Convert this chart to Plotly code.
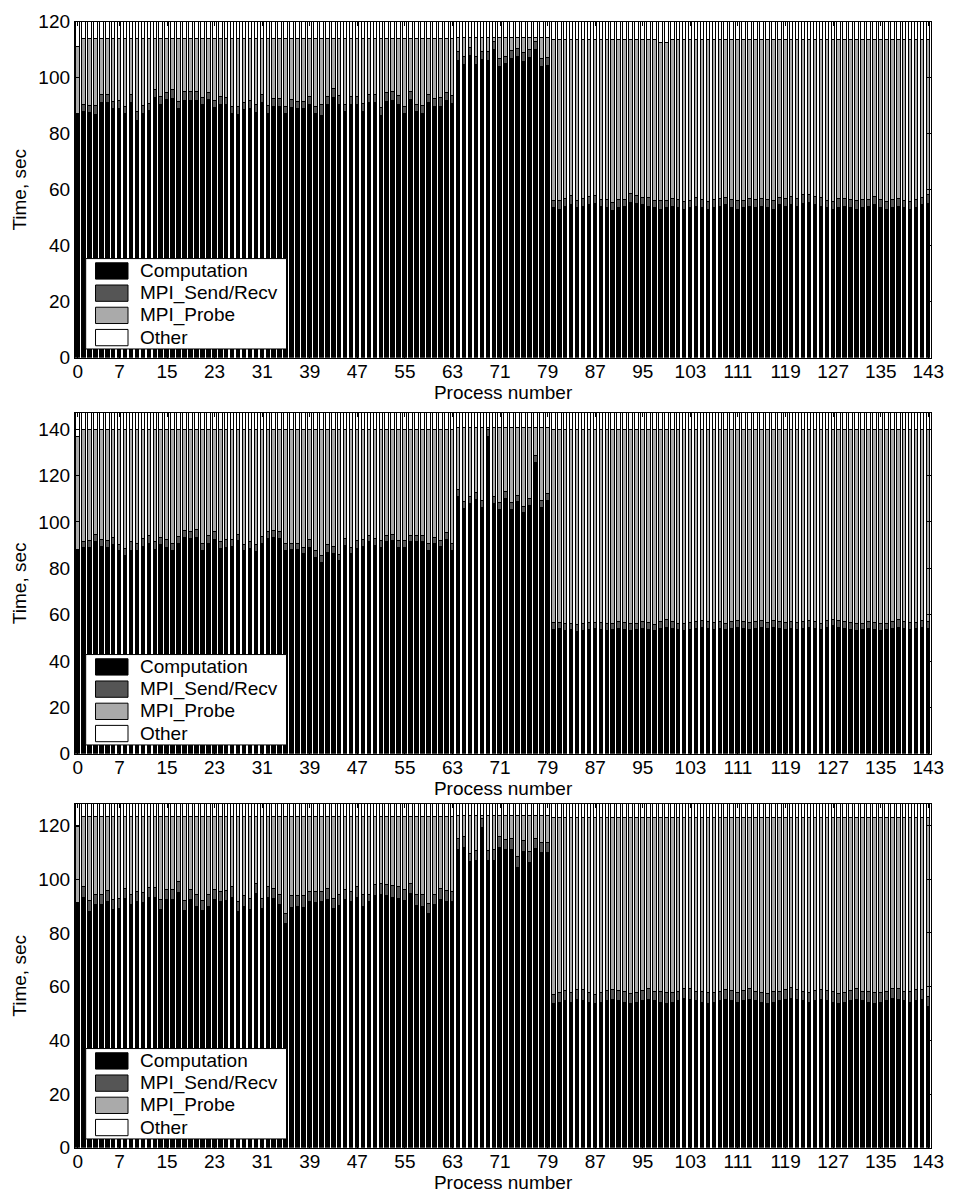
import plotly.graph_objects as go

# ---------------- data ----------------
processes = list(range(144))
tick_vals = [0, 7, 15, 23, 31, 39, 47, 55, 63, 71, 79, 87, 95, 103, 111, 119, 127, 135, 143]
tick_text = [str(v) for v in tick_vals]
series_names = ["Computation", "MPI_Send/Recv", "MPI_Probe", "Other"]
series_colors = ["#000000", "#555555", "#aaaaaa", "#ffffff"]

comp1 = [87.0, 87.7, 87.4, 86.8, 91.2, 91.2, 88.9, 88.9, 87.0, 91.2,
         84.6, 87.2, 88.2, 92.9, 90.5, 92.1, 92.6, 88.9, 91.7, 91.9,
         91.9, 90.3, 92.3, 89.2, 90.5, 90.3, 87.0, 86.8, 88.5, 88.9,
         87.4, 90.9, 87.0, 89.7, 89.7, 87.0, 89.3, 88.9, 88.9, 90.3,
         87.0, 86.6, 90.5, 92.9, 90.3, 87.7, 90.5, 90.5, 87.9, 91.2,
         90.9, 86.6, 91.5, 91.9, 90.3, 87.0, 92.1, 87.7, 87.0, 91.2,
         89.6, 89.6, 91.9, 90.7, 106.1, 104.6, 107.8, 104.6, 106.4, 106.1,
         110.1, 104.1, 104.9, 106.9, 107.6, 105.8, 107.3, 109.9, 104.1, 104.3,
         53.5, 53.0, 54.0, 54.5, 53.5, 54.0, 54.5, 55.0, 54.0, 53.5,
         52.5, 53.5, 54.0, 55.5, 55.0, 54.5, 54.0, 53.5, 53.0, 53.5,
         54.0, 53.5, 53.0, 53.5, 54.0, 53.5, 53.0, 53.5, 54.0, 54.5,
         53.5, 53.0, 53.5, 54.0, 53.5, 54.0, 53.5, 53.0, 54.5, 54.0,
         54.5, 54.0, 55.0, 55.5, 54.5, 54.0, 53.5, 53.0, 53.5, 54.0,
         53.5, 53.0, 53.5, 54.0, 54.5, 53.5, 53.0, 53.5, 54.0, 53.5,
         53.0, 53.5, 54.5, 55.0]
send1 = [0.0, 2.6, 2.6, 3.2, 2.8, 2.8, 2.5, 2.8, 2.7, 2.6,
         3.1, 2.8, 2.6, 2.7, 2.7, 2.6, 3.0, 2.5, 3.3, 3.1,
         3.1, 2.5, 2.3, 2.6, 2.7, 2.6, 2.7, 2.9, 2.7, 2.8,
         2.9, 3.2, 3.0, 2.8, 2.9, 2.7, 3.0, 2.6, 2.6, 2.8,
         2.8, 3.8, 2.7, 3.0, 3.2, 2.7, 2.7, 2.7, 2.9, 2.8,
         3.1, 2.8, 3.0, 3.1, 3.2, 2.7, 2.9, 2.7, 3.0, 2.8,
         3.0, 3.2, 2.8, 2.8, 3.1, 3.0, 2.9, 3.0, 2.8, 3.1,
         2.9, 2.8, 2.7, 2.7, 2.8, 3.0, 2.8, 2.8, 2.8, 3.0,
         2.6, 3.0, 2.8, 3.2, 2.7, 2.9, 3.1, 2.7, 2.5, 2.9,
         3.0, 2.8, 2.6, 3.1, 2.9, 2.8, 3.0, 2.7, 3.2, 2.6,
         2.8, 3.0, 2.9, 2.7, 3.1, 2.8, 2.6, 3.0, 2.9, 2.7,
         2.8, 3.2, 2.6, 2.9, 3.0, 2.7, 2.8, 3.1, 2.6, 2.9,
         3.0, 2.8, 3.1, 2.7, 2.9, 3.0, 2.6, 2.8, 3.2, 2.7,
         2.9, 3.0, 2.8, 2.6, 3.1, 2.9, 2.7, 3.0, 2.8, 2.6,
         2.9, 3.0, 2.8, 3.2]
probe_top1 = [111.0,
    113.8, 113.8, 113.8, 113.8, 113.8, 113.8, 113.8, 113.8, 113.8, 113.8,
    113.8, 113.8, 113.8, 113.8, 113.8, 113.8, 113.8, 113.8, 113.8, 113.8,
    113.8, 113.8, 113.8, 113.8, 113.8, 113.8, 113.8, 113.8, 113.8, 113.8,
    113.8, 113.8, 113.8, 113.8, 113.8, 113.8, 113.8, 113.8, 113.8, 113.8,
    113.8, 113.8, 113.8, 113.8, 113.8, 113.8, 113.8, 113.8, 113.8, 113.8,
    113.8, 113.8, 113.8, 113.8, 113.8, 113.8, 113.8, 113.8, 113.8, 113.8,
    113.8, 113.8, 113.8,
    114.3, 114.3, 114.3, 114.3, 114.3, 114.3, 114.3, 114.3, 114.3, 114.3,
    114.3, 114.3, 114.3, 114.3, 114.3, 114.3,
    113.5, 113.5, 113.5, 113.5, 113.5, 113.5, 113.5, 113.5, 113.5, 113.5,
    113.5, 113.5, 113.5, 113.5, 113.5, 113.5, 113.5, 113.5, 112.5, 112.5,
    113.5, 113.5, 113.5, 113.5, 113.5, 113.5, 113.5, 113.5, 113.5, 113.5,
    113.5, 113.5, 113.5, 113.5, 113.5, 113.5, 113.5, 113.5, 113.5, 113.5,
    113.5, 113.5, 113.5, 113.5, 113.5, 113.5, 113.5, 113.5, 113.5, 113.5,
    113.5, 113.5, 113.5, 113.5, 113.5, 113.5, 113.5, 113.5, 113.5, 113.5,
    113.5, 113.5, 113.5, 113.5]
total1 = 120.0

comp2 = [87.8, 88.7, 89.0, 91.2, 89.3, 88.7, 90.2, 87.3, 85.3, 87.6,
         87.6, 89.3, 90.7, 87.8, 90.2, 89.0, 87.6, 90.4, 93.0, 92.6,
         93.3, 87.6, 90.7, 92.2, 88.3, 89.0, 89.3, 91.9, 87.3, 88.3,
         87.1, 90.4, 92.6, 93.0, 92.6, 87.6, 87.8, 87.8, 86.1, 89.0,
         84.3, 82.5, 86.8, 86.4, 83.3, 89.6, 86.1, 88.3, 89.3, 91.2,
         89.6, 88.7, 91.2, 91.6, 89.0, 88.7, 91.2, 91.2, 91.2, 87.6,
         90.7, 89.3, 92.2, 87.6, 110.7, 105.6, 107.8, 109.5, 106.1, 136.8,
         107.8, 105.2, 109.9, 105.2, 108.5, 103.7, 107.0, 125.5, 106.1, 109.0,
         53.5, 54.0, 53.0, 53.5, 52.5, 53.0, 53.5, 54.0, 53.5, 53.0,
         53.5, 54.0, 53.5, 53.0, 53.5, 54.0, 53.5, 53.0, 54.0, 54.5,
         54.0, 53.5, 53.0, 53.5, 54.0, 54.5, 54.0, 53.5, 54.0, 53.5,
         54.0, 54.5, 54.0, 53.5, 54.0, 54.5, 54.0, 54.5, 54.0, 53.5,
         54.0, 53.5, 54.0, 54.5, 54.0, 53.5, 54.5, 55.0, 54.5, 54.0,
         53.5, 53.0, 53.5, 54.0, 53.5, 53.0, 53.5, 54.0, 54.5, 54.0,
         53.5, 54.0, 54.5, 54.0]
send2 = [0.0, 2.5, 2.9, 3.2, 2.9, 2.9, 2.9, 2.9, 3.0, 3.6,
         2.8, 3.3, 3.2, 3.4, 2.9, 3.2, 2.8, 3.0, 3.2, 2.9,
         3.2, 2.8, 3.2, 3.3, 2.9, 3.2, 2.9, 2.6, 2.9, 2.9,
         2.8, 3.2, 2.9, 3.0, 2.9, 2.8, 2.9, 2.9, 2.9, 3.2,
         3.3, 2.8, 3.1, 2.9, 2.5, 3.0, 2.9, 3.3, 2.9, 2.9,
         3.0, 2.9, 2.9, 2.8, 2.9, 2.9, 2.9, 2.9, 2.9, 2.8,
         2.6, 2.6, 2.9, 2.8, 3.2, 2.9, 2.9, 2.9, 2.9, 3.0,
         2.9, 2.9, 2.9, 2.9, 2.9, 2.9, 3.0, 2.9, 2.9, 2.9,
         2.8, 2.6, 3.0, 2.7, 2.9, 3.1, 2.8, 2.6, 3.0, 2.9,
         2.7, 2.8, 3.1, 2.9, 2.6, 2.8, 3.0, 2.7, 2.9, 3.1,
         2.8, 2.6, 2.9, 3.0, 2.8, 2.7, 3.1, 2.9, 2.8, 2.6,
         3.0, 2.9, 2.7, 2.8, 3.1, 2.9, 2.6, 2.8, 3.0, 2.9,
         2.7, 2.8, 3.1, 2.9, 2.8, 2.6, 3.0, 2.9, 2.7, 2.8,
         3.1, 2.9, 2.6, 2.8, 3.0, 2.9, 2.7, 2.8, 3.1, 2.9,
         2.8, 2.6, 3.0, 2.9]
probe_top2 = [136.8,
    139.7, 139.7, 139.7, 139.7, 139.7, 139.7, 139.7, 139.7, 139.7, 139.7,
    139.7, 139.7, 139.7, 139.7, 139.7, 139.7, 139.7, 139.7, 139.7, 139.7,
    139.7, 139.7, 139.7, 139.7, 139.7, 139.7, 139.7, 139.7, 139.7, 139.7,
    139.7, 139.7, 139.7, 139.7, 139.7, 139.7, 139.7, 139.7, 139.7, 139.7,
    139.7, 139.7, 139.7, 139.7, 139.7, 139.7, 139.7, 139.7, 139.7, 139.7,
    139.7, 139.7, 139.7, 139.7, 139.7, 139.7, 139.7, 139.7, 139.7, 139.7,
    139.7, 139.7, 139.7,
    140.4, 140.4, 140.4, 140.4, 140.4, 140.4, 140.4, 140.4, 140.4, 140.4,
    140.4, 140.4, 140.4, 140.4, 140.4, 140.4,
    139.5, 139.5, 139.5, 139.5, 139.5, 139.5, 139.5, 139.5, 139.5, 139.5,
    139.5, 139.5, 139.5, 139.5, 139.5, 139.5, 139.5, 139.5, 139.5, 139.5,
    139.5, 139.5, 139.5, 139.5, 139.5, 139.5, 139.5, 139.5, 139.5, 139.5,
    139.5, 139.5, 139.5, 139.5, 139.5, 139.5, 139.5, 139.5, 139.5, 139.5,
    139.5, 139.5, 139.5, 139.5, 139.5, 139.5, 139.5, 139.5, 139.5, 139.5,
    139.5, 139.5, 139.5, 139.5, 139.5, 139.5, 139.5, 139.5, 139.5, 139.5,
    139.5, 139.5, 139.5, 139.5]
total2 = 147.0

comp3 = [91.0, 93.2, 87.9, 90.4, 90.4, 91.7, 88.5, 88.9, 92.7, 90.4,
         91.4, 91.0, 92.9, 92.9, 88.5, 92.2, 92.2, 94.8, 88.1, 92.3,
         89.8, 88.1, 89.8, 92.3, 91.7, 91.9, 92.9, 87.9, 89.8, 88.5,
         94.5, 88.9, 93.2, 92.7, 90.4, 83.4, 89.4, 89.8, 89.4, 91.4,
         91.0, 91.4, 92.3, 88.9, 90.2, 92.3, 91.4, 92.9, 89.8, 91.4,
         93.6, 94.2, 93.6, 93.2, 92.7, 91.9, 94.5, 90.2, 89.8, 86.9,
         90.4, 92.3, 91.7, 91.7, 110.7, 111.7, 106.3, 106.7, 119.0, 106.7,
         106.7, 111.7, 110.8, 110.8, 104.1, 110.0, 106.0, 111.4, 109.7, 109.7,
         53.5, 54.0, 54.5, 54.0, 55.0, 54.5, 54.0, 53.5, 54.0, 54.5,
         55.0, 54.5, 54.0, 53.5, 54.0, 54.5, 55.0, 54.5, 54.0, 53.5,
         54.0, 54.5, 55.5, 55.0, 54.5, 54.0, 53.5, 54.0, 54.5, 55.0,
         54.5, 54.0, 54.5, 55.0, 54.5, 54.0, 53.5, 54.0, 54.5, 55.0,
         55.5, 55.0, 54.5, 54.0, 54.5, 55.0, 54.5, 54.0, 53.5, 54.0,
         54.5, 55.0, 54.5, 54.0, 53.5, 54.0, 54.5, 55.5, 55.0, 54.5,
         54.0, 54.5, 55.0, 52.5]
send3 = [0.0, 3.8, 4.0, 3.8, 3.8, 4.0, 3.8, 3.8, 3.8, 3.8,
         4.0, 3.8, 3.9, 3.9, 3.8, 3.9, 3.9, 4.2, 3.8, 3.8,
         4.2, 3.8, 4.2, 3.8, 3.7, 3.8, 4.1, 3.8, 3.8, 4.2,
         3.8, 3.8, 3.8, 3.8, 3.8, 3.8, 4.2, 3.8, 4.2, 3.9,
         4.4, 4.0, 4.2, 3.8, 3.8, 3.8, 4.0, 4.1, 4.2, 2.8,
         4.2, 4.1, 4.2, 4.3, 4.3, 4.2, 3.8, 3.8, 4.2, 3.8,
         3.8, 4.2, 4.0, 3.7, 4.1, 4.1, 3.0, 3.8, 3.4, 3.8,
         4.0, 4.1, 3.8, 4.2, 4.0, 4.2, 4.0, 3.6, 3.8, 3.8,
         3.5, 3.8, 4.0, 3.6, 3.9, 4.1, 3.7, 3.5, 3.8, 4.0,
         3.6, 3.9, 4.1, 3.7, 3.5, 3.8, 4.0, 3.6, 3.9, 4.1,
         3.7, 3.5, 3.8, 4.0, 3.6, 3.9, 4.1, 3.7, 3.5, 3.8,
         4.0, 3.6, 3.9, 4.1, 3.7, 3.5, 3.8, 4.0, 3.6, 3.9,
         4.1, 3.7, 3.5, 3.8, 4.0, 3.6, 3.9, 4.1, 3.7, 3.5,
         3.8, 4.0, 3.6, 3.9, 4.1, 3.7, 3.5, 3.8, 4.0, 3.6,
         3.9, 4.1, 3.7, 3.5]
probe_top3 = [119.4,
    123.2, 123.2, 123.2, 123.2, 123.2, 123.2, 123.2, 123.2, 123.2, 123.2,
    123.2, 123.2, 123.2, 123.2, 123.2, 123.2, 123.2, 123.2, 123.2, 123.2,
    123.2, 123.2, 123.2, 123.2, 123.2, 123.2, 123.2, 123.2, 123.2, 123.2,
    123.2, 123.2, 123.2, 123.2, 123.2, 123.2, 123.2, 123.2, 123.2, 123.2,
    123.2, 123.2, 123.2, 123.2, 123.2, 123.2, 123.2, 123.2, 123.2, 123.2,
    123.2, 123.2, 123.2, 123.2, 123.2, 123.2, 123.2, 123.2, 123.2, 123.2,
    123.2, 123.2, 123.2,
    123.6, 123.6, 123.6, 123.6, 123.6, 123.6, 123.6, 123.6, 123.6, 123.6,
    123.6, 123.6, 123.6, 123.6, 123.6, 123.6,
    122.9, 122.9, 122.9, 122.9, 122.9, 122.9, 122.9, 122.9, 122.9, 122.9,
    122.9, 122.9, 122.9, 122.9, 122.9, 122.9, 122.9, 122.9, 122.9, 122.9,
    122.9, 122.9, 122.9, 122.9, 122.9, 122.9, 122.9, 122.9, 122.9, 122.9,
    122.9, 122.9, 122.9, 122.9, 122.9, 122.9, 122.9, 122.9, 122.9, 122.9,
    122.9, 122.9, 122.9, 122.9, 122.9, 122.9, 122.9, 122.9, 122.9, 122.9,
    122.9, 122.9, 122.9, 122.9, 122.9, 122.9, 122.9, 122.9, 122.9, 122.9,
    122.9, 122.9, 122.9, 122.9]
total3 = 128.0

panels = [
    (comp1, send1, probe_top1, total1, 120),
    (comp2, send2, probe_top2, total2, 147),
    (comp3, send3, probe_top3, total3, 128),
]
ytick_sets = [[0, 20, 40, 60, 80, 100, 120],
              [0, 20, 40, 60, 80, 100, 120, 140],
              [0, 20, 40, 60, 80, 100, 120]]

W, H = 962, 1203
x_left, x_right = 74, 944
panel_px = [(12, 354), (410, 757), (808, 1158)]  # (top, bottom) in px
FONT = "Liberation Sans, Arial, sans-serif"
FS = 19

fig = go.Figure()
for p, (comp, send, probe_top, total, ymax) in enumerate(panels):
    xa = "x" if p == 0 else f"x{p+1}"
    ya = "y" if p == 0 else f"y{p+1}"
    probe = [max(pt - c - s, 0) for pt, c, s in zip(probe_top, comp, send)]
    other = [max(total - pt, 0) for pt in probe_top]
    for name, vals, col in zip(series_names, [comp, send, probe, other], series_colors):
        fig.add_trace(go.Bar(
            x=processes, y=vals, name=name, xaxis=xa, yaxis=ya,
            marker=dict(color=col, line=dict(color="#000000", width=1)),
            width=0.6, showlegend=False, hoverinfo="skip"))

layout = dict(
    width=W, height=H, margin=dict(l=0, r=0, t=0, b=0),
    paper_bgcolor="white", plot_bgcolor="white", barmode="stack",
    bargap=0, font=dict(family=FONT, size=FS, color="black"),
)
shapes = []
annotations = []
for p, (top, bot) in enumerate(panel_px):
    xk = "xaxis" if p == 0 else f"xaxis{p+1}"
    yk = "yaxis" if p == 0 else f"yaxis{p+1}"
    ya = "y" if p == 0 else f"y{p+1}"
    layout[xk] = dict(
        domain=[x_left / W, x_right / W], range=[-0.5, 143.5],
        tickmode="array", tickvals=tick_vals, ticktext=tick_text,
        ticks="inside", ticklen=4, tickcolor="black",
        ticklabelstandoff=-4,
        showline=True, linecolor="black", linewidth=1, mirror="ticks",
        showgrid=False, zeroline=False, anchor=ya,
        title=dict(text="Process number", standoff=0,
                   font=dict(family=FONT, size=FS)),
        tickfont=dict(family=FONT, size=FS),
    )
    layout[yk] = dict(
        domain=[1 - bot / H, 1 - top / H], range=[0, panels[p][4]],
        tickmode="array", tickvals=ytick_sets[p],
        ticks="inside", ticklen=4, tickcolor="black",
        showline=True, linecolor="black", linewidth=1, mirror="ticks",
        showgrid=False, zeroline=False,
        anchor="x" if p == 0 else f"x{p+1}",
        title=dict(text="Time, sec", standoff=6,
                   font=dict(family=FONT, size=FS)),
        tickfont=dict(family=FONT, size=FS),
    )
    # MATLAB-style legend box in the lower-left corner of each panel
    bx0, bx1 = 85, 289
    by1 = bot - 9
    by0 = by1 - 92
    shapes.append(dict(type="rect", xref="paper", yref="paper",
                       x0=bx0 / W, x1=bx1 / W, y0=1 - by1 / H, y1=1 - by0 / H,
                       fillcolor="white", line=dict(color="black", width=1),
                       layer="above"))
    for k, (name, col) in enumerate(zip(series_names, series_colors)):
        cy = by0 + 12.6 + 22.6 * k
        shapes.append(dict(type="rect", xref="paper", yref="paper",
                           x0=95 / W, x1=128 / W,
                           y0=1 - (cy + 8.3) / H, y1=1 - (cy - 8.3) / H,
                           fillcolor=col, line=dict(color="black", width=1),
                           layer="above"))
        annotations.append(dict(xref="paper", yref="paper", x=138 / W,
                                y=1 - cy / H, text=name, showarrow=False,
                                xanchor="left", yanchor="middle",
                                font=dict(family=FONT, size=FS, color="black")))

layout["shapes"] = shapes
layout["annotations"] = annotations
fig.update_layout(**layout)
fig.write_html(
    "out.html",
    config={"displayModeBar": False},
    post_script="document.documentElement.style.margin='0';"
                "document.body.style.margin='0';"
                "document.documentElement.style.overflow='hidden';",
)
